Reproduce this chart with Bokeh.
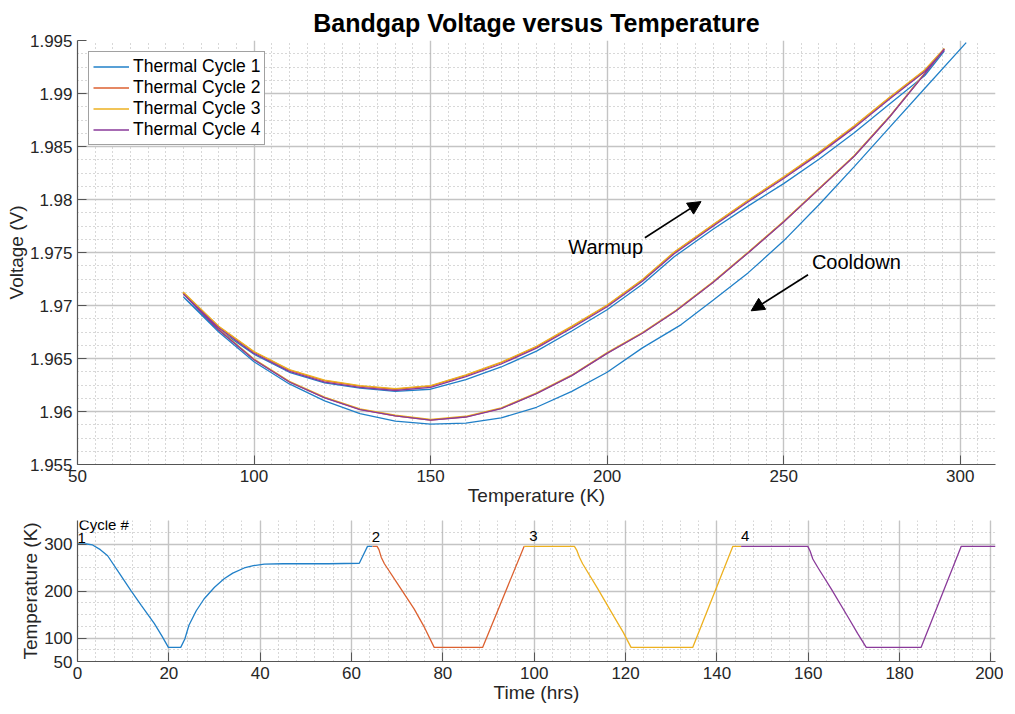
from bokeh.plotting import figure
from bokeh.layouts import column
from bokeh.models import (FixedTicker, Range1d, Label, Arrow, NormalHead, Legend,
                          LegendItem, CustomJSTickFormatter)
from bokeh.embed import file_html
from bokeh.resources import INLINE

FONT = "Liberation Sans"
TXT = "#262626"
COLORS = ["#2180c8", "#DC6130", "#EDB120", "#8a3a9a"]
NAMES = ["Thermal Cycle 1", "Thermal Cycle 2", "Thermal Cycle 3", "Thermal Cycle 4"]

# ---------------- top chart data: voltage vs temperature ----------------
t1_cool = [301.7, 290, 280, 270, 260, 250, 240, 230, 221, 210, 200, 190, 180, 170, 160, 150, 140, 130, 120, 110, 100, 90, 80]
t_cool = [295.5, 290, 280, 270, 260, 250, 240, 230, 219.5, 210, 200, 190, 180, 170, 160, 150, 140, 130, 120, 110, 100, 90, 80]
t_warm = [80, 90, 100, 110, 120, 130, 140, 150, 160, 170, 180, 190, 200, 210, 219, 230, 240, 250, 260, 270, 280, 290, 295.5]

v1_cool = [1.9948, 1.9905, 1.9868, 1.9831, 1.9795, 1.9761, 1.9731, 1.9705, 1.9682, 1.9660, 1.9637, 1.9619, 1.9604, 1.9594, 1.9589, 1.9588, 1.9591, 1.9598, 1.9610, 1.9626, 1.9647, 1.9675, 1.9708]
v1_warm = [1.9708, 1.9677, 1.9654, 1.9637, 1.9627, 1.9622, 1.9619, 1.9621, 1.9630, 1.9642, 1.9657, 1.9676, 1.9696, 1.9720, 1.9746, 1.9772, 1.9794, 1.9815, 1.9838, 1.9863, 1.9890, 1.9917, 1.9940]
v2_cool = [1.9942, 1.9919, 1.9878, 1.9841, 1.9810, 1.9779, 1.9750, 1.9722, 1.9695, 1.9674, 1.9655, 1.9634, 1.9617, 1.9603, 1.9595, 1.9592, 1.9596, 1.9602, 1.9613, 1.9628, 1.9649, 1.9677, 1.9711]
v2_warm = [1.9712, 1.9680, 1.9656, 1.9639, 1.9629, 1.9624, 1.9621, 1.9624, 1.9634, 1.9646, 1.9661, 1.9680, 1.9700, 1.9724, 1.9750, 1.9776, 1.9799, 1.9821, 1.9844, 1.9869, 1.9896, 1.9922, 1.9942]
v3_cool = [1.99425, 1.99195, 1.98785, 1.98415, 1.98105, 1.97795, 1.97505, 1.97225, 1.96955, 1.96745, 1.96555, 1.96345, 1.96175, 1.96035, 1.95955, 1.95925, 1.95965, 1.96025, 1.96135, 1.96285, 1.96495, 1.96775, 1.97115]
v3_warm = [1.97125, 1.96805, 1.96565, 1.96395, 1.96295, 1.96245, 1.96215, 1.96245, 1.96345, 1.96465, 1.96615, 1.96805, 1.97005, 1.97245, 1.97505, 1.97765, 1.97995, 1.98215, 1.98445, 1.98695, 1.98965, 1.99225, 1.99425]
v4_cool = [1.99420, 1.99188, 1.98778, 1.98408, 1.98098, 1.97788, 1.97498, 1.97218, 1.96948, 1.96738, 1.96548, 1.96338, 1.96168, 1.96028, 1.95948, 1.95918, 1.95958, 1.96018, 1.96128, 1.96278, 1.96488, 1.96768, 1.97108]
v4_warm = [1.97108, 1.96788, 1.96548, 1.96378, 1.96278, 1.96228, 1.96198, 1.96228, 1.96328, 1.96448, 1.96598, 1.96788, 1.96988, 1.97228, 1.97488, 1.97748, 1.97978, 1.98198, 1.98428, 1.98678, 1.98948, 1.99208, 1.99410]

temp_x_ticks = [50, 100, 150, 200, 250, 300]
volt_y_ticks = [1.955, 1.96, 1.965, 1.97, 1.975, 1.98, 1.985, 1.99, 1.995]

# ---------------- bottom chart data: temperature vs time ----------------
time_c1 = [0, 2, 3.3, 5, 6.6, 9, 11.7, 14, 16.8, 18.5, 19.9, 22.6, 23.5, 24.4, 26, 27.7, 30, 32.1, 34, 36.5, 38.5, 40.9, 45, 50, 55, 61.7, 62.5, 63.5, 64.6]
temp_c1 = [300, 300, 298, 288, 275, 240, 201, 169, 131, 104, 80, 80, 98, 127, 158, 183, 208, 226, 238, 249, 254, 257, 258, 258, 258, 259, 275, 295, 295]
time_c2 = [64.6, 65.6, 66.0, 66.5, 67.2, 70.1, 73.7, 76.0, 78.1, 88.7, 97.8]
temp_c2 = [295, 295, 288, 272, 258, 215, 162, 122, 80, 80, 295]
time_c3 = [97.8, 108.8, 109.3, 109.9, 110.6, 113.9, 117.5, 119.5, 121.2, 134.7, 143.5, 145.3]
temp_c3 = [295, 295, 287, 272, 258, 205, 145, 112, 80, 80, 295, 295]
time_c4 = [145.3, 159.9, 160.4, 161.0, 162.1, 165.0, 168.8, 170.8, 172.7, 184.7, 193.5, 201]
temp_c4 = [295, 295, 285, 268, 250, 205, 143, 110, 80, 80, 295, 295]

time_ticks = [0, 20, 40, 60, 80, 100, 120, 140, 160, 180, 200]
temp_y_ticks = [50, 100, 200, 300]


def style_axes(fig):
    for ax in (fig.xaxis[0], fig.yaxis[0]):
        ax.axis_line_color = "#555555"
        ax.axis_line_width = 1.2
        ax.major_tick_line_color = "#555555"
        ax.major_tick_in = 9
        ax.major_tick_out = 0
        ax.minor_tick_in = 0
        ax.minor_tick_out = 0
        ax.major_label_text_font = FONT
        ax.major_label_text_font_size = "17px"
        ax.major_label_text_color = TXT
        ax.axis_label_text_font = FONT
        ax.axis_label_text_font_size = "19px"
        ax.axis_label_text_font_style = "normal"
        ax.axis_label_text_color = TXT
        ax.major_label_standoff = 5
        ax.axis_label_standoff = 0
    for g in (fig.xgrid[0], fig.ygrid[0]):
        g.grid_line_color = "#c4c4c4"
        g.grid_line_width = 1.4
        g.minor_grid_line_color = "#b0b0b0"
        g.minor_grid_line_dash = "1 3"
        g.minor_grid_line_width = 1
    fig.outline_line_color = None
    fig.background_fill_color = "white"
    fig.border_fill_color = "white"


# ---------------- top figure ----------------
p = figure(frame_width=918, frame_height=424, x_range=Range1d(50, 310),
           y_range=Range1d(1.955, 1.995), output_backend="svg", toolbar_location=None,
           min_border_left=77, min_border_right=8, min_border_top=40, min_border_bottom=40,
           title="Bandgap Voltage versus Temperature")
p.title.text_font = FONT
p.title.text_font_size = "25px"
p.title.text_font_style = "bold"
p.title.text_color = "black"
p.title.align = "center"
p.title.standoff = 8

p.xaxis.ticker = FixedTicker(ticks=temp_x_ticks, minor_ticks=list(range(50, 311, 5)))
p.yaxis.ticker = FixedTicker(ticks=volt_y_ticks,
                             minor_ticks=[1.955 + i * 0.00125 for i in range(33)])
p.yaxis.formatter = CustomJSTickFormatter(code="return Number(tick.toFixed(4)).toString();")
p.xaxis.axis_label = "Temperature (K)"
p.yaxis.axis_label = "Voltage (V)"
style_axes(p)

top_series = [
    (t1_cool + t_warm, v1_cool + v1_warm),
    (t_cool + t_warm, v2_cool + v2_warm),
    (t_cool + t_warm, v3_cool + v3_warm),
    (t_cool + t_warm, v4_cool + v4_warm),
]
items = []
for (xs, ys), c, name in zip(top_series, COLORS, NAMES):
    r = p.line(xs, ys, line_color=c, line_width=1.3)
    items.append(LegendItem(label=name, renderers=[r]))

legend = Legend(items=items, location="top_left", margin=11, padding=4, spacing=0,
                label_text_font=FONT, label_text_font_size="17.5px", label_text_color="black",
                label_text_line_height=0.8,
                label_height=17, glyph_height=17, glyph_width=36, label_standoff=4,
                border_line_color="#444444", border_line_width=1,
                background_fill_color="white", background_fill_alpha=1)
p.add_layout(legend)

p.add_layout(Label(x=189, y=1.9755, text="Warmup", text_font=FONT, text_font_size="20px",
                   text_color="black", text_baseline="middle"))
p.add_layout(Arrow(end=NormalHead(size=13, fill_color="black", line_color="black"),
                   x_start=210.7, y_start=1.9764, x_end=226.6, y_end=1.9798,
                   line_color="black", line_width=1.7))
p.add_layout(Label(x=258, y=1.9741, text="Cooldown", text_font=FONT, text_font_size="20px",
                   text_color="black", text_baseline="middle"))
p.add_layout(Arrow(end=NormalHead(size=13, fill_color="black", line_color="black"),
                   x_start=256.9, y_start=1.9729, x_end=240.8, y_end=1.9695,
                   line_color="black", line_width=1.7))

# ---------------- bottom figure ----------------
p2 = figure(frame_width=918, frame_height=141, x_range=Range1d(0, 201),
            y_range=Range1d(50, 350), output_backend="svg", toolbar_location=None,
            min_border_left=77, min_border_right=8, min_border_top=12, min_border_bottom=38)
p2.xaxis.ticker = FixedTicker(ticks=time_ticks, minor_ticks=list(range(0, 201, 4)))
p2.yaxis.ticker = FixedTicker(ticks=temp_y_ticks, minor_ticks=list(range(50, 351, 25)))
p2.xaxis.axis_label = "Time (hrs)"
p2.yaxis.axis_label = "Temperature (K)"
style_axes(p2)

for xs, ys, c in zip([time_c1, time_c2, time_c3, time_c4],
                     [temp_c1, temp_c2, temp_c3, temp_c4], COLORS):
    p2.line(xs, ys, line_color=c, line_width=1.3)

for txt, tx, ty in [("Cycle #", 0.3, 342), ("1", 0.0, 313), ("2", 64.4, 314),
                    ("3", 98.9, 317), ("4", 145.3, 317)]:
    p2.add_layout(Label(x=tx, y=ty, text=txt, text_font=FONT, text_font_size="15px",
                        text_color="black", text_baseline="middle"))

layout = column(p, p2)
open("out.html", "w").write(file_html(layout, INLINE))
